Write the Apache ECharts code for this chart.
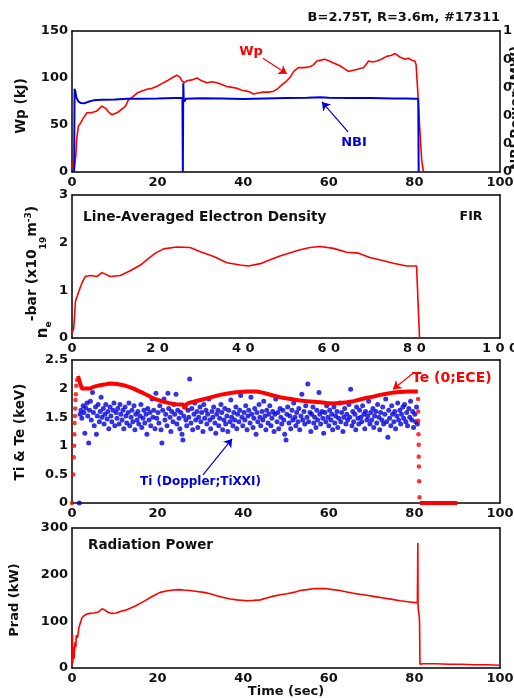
<!DOCTYPE html>
<html>
<head>
<meta charset="utf-8">
<script src="https://cdn.jsdelivr.net/npm/echarts@6/dist/echarts.min.js"></script>
<style>
  html, body { margin: 0; padding: 0; background: #fff; }
  #chart { width: 514px; height: 698px; }
</style>
</head>
<body>
<div id="chart"></div>
<script>
// ---- data (time in sec) ----
var wpData = [[0,5],[0.2,12],[0.4,8],[0.5,2],[0.7,0],[0.9,18],[1.1,35],[1.5,49],[2,52],[2.6,57],[3.5,63],[4.5,63],[5.8,65],[6.5,68],[7,70],[7.8,68],[8.5,64],[9.3,61],[10.5,63],[11.7,67],[12.5,70],[13.2,77],[14.2,80],[15.2,84],[16.2,86],[17.5,88],[18.7,89],[19.8,91],[21,94],[22.2,97],[23.3,100],[24.5,103],[25.2,101],[25.7,97],[26.2,95],[26.8,97],[28,98],[29.2,100],[30.3,97],[31.5,95],[32.7,96],[33.9,95],[35,93],[36.2,91],[37.4,90],[38.5,89],[39.7,87],[40.9,86],[41.6,85],[42.4,83],[43.5,84],[44.7,85],[46,85],[47.1,86],[47.9,88],[48.6,91],[49.4,94],[50.2,97],[51,101],[51.8,107],[52.9,111],[54.2,111],[55.6,112],[56.4,114],[57.2,118],[58.2,119],[59.1,120],[60.1,118],[61.1,116],[62.6,113],[63.6,110],[64.6,107],[65.5,108],[66.5,109],[67.3,110],[68.1,111],[68.8,115],[69.3,118],[70.2,117],[71.2,118],[72.3,120],[73.5,123],[74.5,124],[75.5,126],[76.1,124],[76.7,122],[77.8,120],[78.6,121],[79.4,119],[80.1,118],[80.4,114],[80.9,77],[81.2,50],[81.5,28],[81.7,13],[82.1,1]];

// NBI on the right axis (0..1)
var nbiData = [[0.5,0],[0.6,0.59],[0.8,0.57],[1.0,0.53],[1.5,0.5],[2,0.49],[3,0.488],[4,0.5],[5,0.508],[7,0.512],[10,0.515],[13,0.52],[16,0.52],[20,0.522],[24,0.525],[25.8,0.525],[25.9,0],[26.0,0.63],[26.1,0.52],[26.3,0.5],[26.6,0.52],[30,0.523],[35,0.522],[40,0.518],[45,0.522],[50,0.525],[55,0.526],[58,0.53],[60,0.526],[65,0.525],[70,0.525],[75,0.522],[78,0.521],[80,0.52],[80.9,0.52],[81.0,0]];

var neData = [[0,0.1],[0.4,0.2],[0.8,0.77],[1.6,0.98],[2.3,1.15],[3.1,1.29],[4.3,1.31],[5.8,1.29],[7.0,1.37],[7.8,1.34],[8.9,1.29],[11.3,1.31],[13.6,1.41],[16,1.53],[17.9,1.67],[19.5,1.78],[21.4,1.87],[24.5,1.91],[27.6,1.9],[30,1.81],[33.1,1.71],[36.2,1.58],[39.3,1.53],[41.2,1.51],[44,1.56],[46.3,1.64],[48.6,1.72],[51,1.79],[53.3,1.85],[55.6,1.9],[58,1.92],[61.1,1.88],[64.2,1.8],[66.9,1.78],[69.6,1.69],[72.8,1.62],[75.1,1.57],[78.2,1.51],[80.5,1.51],[80.8,1.55],[81.2,0]];

var teLine = [[1.4,2.22],[1.8,2.12],[2.3,2.0],[3,2.0],[4.3,2.0],[5,2.03],[6.6,2.06],[7.5,2.07],[8.9,2.09],[10.5,2.08],[12,2.06],[13.3,2.03],[14.4,2.0],[15.5,1.96],[16.7,1.92],[18,1.87],[19,1.83],[20.2,1.8],[21.4,1.77],[22.5,1.75],[23.7,1.73],[25,1.72],[26,1.72],[26.3,1.65],[26.6,1.72],[27.3,1.75],[28.4,1.77],[30,1.8],[31.5,1.83],[33,1.86],[34.6,1.89],[36,1.91],[37.7,1.93],[39.3,1.94],[40.9,1.95],[43.2,1.95],[44.5,1.93],[45.5,1.91],[47,1.88],[48.6,1.85],[50,1.83],[51.8,1.81],[53.3,1.79],[54.9,1.78],[56.5,1.77],[58,1.76],[59.5,1.75],[61.1,1.74],[62.6,1.75],[64.2,1.76],[65.8,1.78],[67.3,1.81],[68.9,1.84],[70.4,1.86],[72,1.89],[73.5,1.91],[75,1.93],[76.7,1.94],[78.5,1.95],[80.8,1.95]];
var teDots = [[0,0],[0.3,0.5],[0.4,0.8],[0.5,1.0],[0.55,1.2],[0.6,1.4],[0.7,1.52],[0.75,1.65],[0.8,1.8],[0.9,1.9],[1.0,2.05],[1.2,2.15],[80.85,1.82],[80.9,1.6],[80.9,1.44],[80.95,1.2],[81.0,1.02],[81.0,0.81],[81.05,0.64],[81.1,0.38],[81.2,0.1]];
var teZero = [[81.3,0],[90,0]];

var tiData = [[1.7,0],[1.9,1.55],[2.1,1.62],[2.3,1.48],[2.6,1.7],[2.8,1.58],[3.0,1.22],[3.2,1.66],[3.5,1.75],[3.7,1.52],[3.9,1.05],[4.1,1.62],[4.3,1.78],[4.5,1.45],[4.8,1.93],[5.0,1.58],[5.2,1.35],[5.5,1.68],[5.7,1.2],[5.9,1.52],[6.1,1.72],[6.4,1.42],[6.6,1.6],[6.8,1.85],[7.0,1.5],[7.3,1.65],[7.5,1.38],[7.7,1.55],[7.9,1.72],[8.2,1.47],[8.4,1.6],[8.6,1.3],[8.9,1.68],[9.1,1.52],[9.3,1.42],[9.6,1.62],[9.8,1.75],[10.0,1.35],
[10.3,1.58],[10.5,1.48],[10.7,1.65],[11.0,1.38],[11.2,1.72],[11.4,1.55],[11.7,1.45],[11.9,1.62],[12.1,1.3],[12.4,1.68],[12.6,1.52],[12.8,1.4],[13.1,1.58],[13.3,1.75],[13.5,1.35],[13.8,1.5],[14.0,1.62],[14.2,1.42],[14.5,1.7],[14.7,1.28],[14.9,1.55],[15.2,1.45],[15.4,1.6],[15.6,1.38],[15.9,1.52],[16.1,1.72],[16.3,1.32],[16.6,1.48],[16.8,1.62],[17.0,1.4],[17.3,1.55],[17.5,1.2],[17.7,1.65],[18.0,1.45],[18.2,1.58],[18.4,1.35],[18.7,1.82],[18.9,1.5],[19.1,1.62],[19.4,1.3],[19.6,1.92],[19.8,1.48],
[20.1,1.58],[20.3,1.4],[20.5,1.7],[20.8,1.28],[21.0,1.05],[21.2,1.62],[21.5,1.82],[21.7,1.45],[21.9,1.55],[22.2,1.35],[22.4,1.92],[22.6,1.65],[22.9,1.5],[23.1,1.25],[23.3,1.6],[23.6,1.42],[23.8,1.72],[24.0,1.55],[24.3,1.9],[24.5,1.38],[24.7,1.62],[25.0,1.48],[25.2,1.3],[25.4,1.58],[25.7,1.2],[25.9,1.1],[26.1,1.52],[26.4,1.68],[26.6,1.45],[26.8,1.35],[27.1,1.62],[27.3,1.5],[27.5,2.17],[27.8,1.4],[28.0,1.65],[28.2,1.28],[28.5,1.55],[28.7,1.75],[28.9,1.45],[29.2,1.6],[29.4,1.32],[29.6,1.5],[29.9,1.68],
[30.1,1.42],[30.3,1.58],[30.6,1.25],[30.8,1.72],[31.0,1.48],[31.3,1.62],[31.5,1.38],[31.7,1.55],[32.0,1.82],[32.2,1.45],[32.4,1.3],[32.7,1.6],[32.9,1.5],[33.1,1.68],[33.4,1.4],[33.6,1.22],[33.8,1.55],[34.1,1.62],[34.3,1.35],[34.5,1.48],[34.8,1.72],[35.0,1.58],[35.2,1.28],[35.5,1.45],[35.7,1.65],[35.9,1.38],[36.2,1.52],[36.4,1.25],[36.6,1.62],[36.9,1.42],[37.1,1.8],[37.3,1.5],[37.6,1.35],[37.8,1.58],[38.0,1.45],[38.3,1.68],[38.5,1.3],[38.7,1.55],[39.0,1.42],[39.2,1.62],[39.4,1.88],[39.7,1.5],[39.9,1.35],
[40.2,1.58],[40.4,1.45],[40.6,1.7],[40.9,1.28],[41.1,1.52],[41.3,1.62],[41.6,1.4],[41.8,1.85],[42.0,1.55],[42.3,1.32],[42.5,1.48],[42.7,1.65],[43.0,1.2],[43.2,1.58],[43.4,1.42],[43.7,1.72],[43.9,1.5],[44.1,1.35],[44.4,1.6],[44.6,1.45],[44.8,1.78],[45.1,1.52],[45.3,1.28],[45.5,1.62],[45.8,1.4],[46.0,1.55],[46.2,1.7],[46.5,1.35],[46.7,1.48],[46.9,1.6],[47.2,1.25],[47.4,1.55],[47.6,1.82],[47.9,1.42],[48.1,1.58],[48.3,1.3],[48.6,1.65],[48.8,1.5],[49.0,1.38],[49.3,1.62],[49.5,1.45],[49.7,1.2],[50.0,1.1],
[50.2,1.55],[50.4,1.68],[50.7,1.4],[50.9,1.52],[51.1,1.3],[51.4,1.62],[51.6,1.45],[51.8,1.75],[52.1,1.5],[52.3,1.35],[52.5,1.58],[52.8,1.42],[53.0,1.65],[53.2,1.28],[53.5,1.52],[53.7,1.9],[53.9,1.45],[54.2,1.6],[54.4,1.38],[54.6,1.7],[54.9,1.5],[55.1,2.08],[55.3,1.42],[55.6,1.58],[55.8,1.25],[56.0,1.55],[56.3,1.68],[56.5,1.4],[56.7,1.5],[57.0,1.32],[57.2,1.62],[57.4,1.45],[57.7,1.93],[57.9,1.55],[58.1,1.38],[58.4,1.6],[58.6,1.48],[58.8,1.22],[59.1,1.58],[59.3,1.42],[59.5,1.7],[59.8,1.5],
[60.0,1.35],[60.2,1.62],[60.5,1.45],[60.7,1.55],[60.9,1.28],[61.2,1.68],[61.4,1.4],[61.6,1.52],[61.9,1.6],[62.1,1.32],[62.3,1.48],[62.6,1.75],[62.8,1.42],[63.0,1.58],[63.3,1.25],[63.5,1.5],[63.7,1.65],[64.0,1.38],[64.2,1.55],[64.4,1.45],[64.7,1.72],[64.9,1.5],[65.1,1.99],[65.4,1.35],[65.6,1.6],[65.8,1.42],[66.1,1.55],[66.3,1.28],[66.5,1.68],[66.8,1.48],[67.0,1.38],[67.2,1.62],[67.5,1.5],[67.7,1.42],[67.9,1.7],[68.2,1.55],[68.4,1.3],[68.6,1.6],[68.9,1.45],[69.1,1.52],[69.3,1.78],[69.6,1.38],[69.8,1.58],
[70.0,1.45],[70.3,1.65],[70.5,1.32],[70.7,1.52],[71.0,1.6],[71.2,1.4],[71.4,1.72],[71.7,1.5],[71.9,1.28],[72.1,1.58],[72.4,1.45],[72.6,1.68],[72.8,1.38],[73.1,1.55],[73.3,1.82],[73.5,1.42],[73.8,1.15],[74.0,1.62],[74.2,1.48],[74.5,1.35],[74.7,1.7],[74.9,1.55],[75.2,1.42],[75.4,1.6],[75.6,1.3],[75.9,1.52],[76.1,1.75],[76.3,1.45],[76.6,1.62],[76.8,1.38],[77.0,1.55],[77.3,1.68],[77.5,1.48],[77.7,1.72],[78.0,1.42],[78.2,1.58],[78.4,1.35],[78.7,1.65],[78.9,1.5],[79.1,1.78],[79.4,1.45],[79.6,1.6],[79.8,1.32],[80.1,1.55],[80.3,1.42],[80.5,1.68],[80.7,1.38]];

var pradData = [[0,5],[0.1,72],[0.2,10],[0.3,45],[0.5,20],[0.7,55],[0.9,45],[1.0,70],[1.3,65],[1.6,86],[2.0,98],[2.3,107],[2.8,112],[3.5,116],[4.3,117],[5.1,118],[6.2,120],[7.0,127],[7.5,125],[7.8,123],[8.5,119],[9.3,117],[10.3,118],[11.3,121],[12.5,124],[13.6,128],[14.8,133],[16,139],[17.2,145],[18.3,151],[19.5,157],[20.6,162],[22,165],[23.7,167],[25,168],[26.1,167],[27.5,166],[29.2,164],[30.8,162],[32.3,159],[33.8,155],[35.4,151],[37,148],[38.5,146],[40.9,144],[42.5,145],[44,146],[45.5,150],[47.1,154],[48.7,157],[50.2,159],[51.8,162],[53.3,166],[54.9,168],[56.4,170],[58,170.5],[59.5,170],[61,168],[62.6,166],[64.2,163],[65.8,160],[67.3,158],[68.9,156],[70.8,153],[72.8,150],[74.8,147],[76.7,144],[78.5,142],[80.2,140],[80.5,136],[80.7,140],[80.8,268],[80.85,140],[80.9,125],[81.1,114],[81.2,100],[81.3,8],[82,9],[85,9],[88,8],[91,8],[94,7],[97,7],[100,6]];

var timeTicks = [0, 100, 20];          // min, max, interval
var wpAxis = [0, 150, 50];
var nbiAxis = [0, 1, 0.2];
var neAxis = [0, 3, 1];
var tiAxis = [0, 2.5, 0.5];
var pradAxis = [0, 300, 100];

var RED = '#ff0000';
var BLUE = '#0000dd';
var FONT = 'DejaVu Sans';

var chart = echarts.init(document.getElementById('chart'));

var grids = [
    {left: 72, top: 31, width: 428, height: 141},
    {left: 72, top: 195, width: 428, height: 143},
    {left: 72, top: 360, width: 428, height: 143},
    {left: 72, top: 528, width: 428, height: 140}
];
grids.forEach(function (g) { g.outerBoundsMode = 'none'; g.containLabel = false; });

function axisBase(range) {
    return {
        type: 'value',
        min: range[0], max: range[1], interval: range[2],
        axisLine: {show: true, onZero: false, lineStyle: {color: '#000', width: 1.5}},
        axisTick: {show: false},
        splitLine: {show: false},
        axisLabel: {show: false}
    };
}
function withLabels(ax, margin, fmt) {
    ax.axisLabel = {show: true, margin: margin, color: '#111', fontFamily: FONT, fontWeight: 'bold', fontSize: 13};
    if (fmt) ax.axisLabel.formatter = fmt;
    return ax;
}

var xAxes = [], yAxes = [];
var yRanges = [[wpAxis, nbiAxis], [neAxis, neAxis], [tiAxis, tiAxis], [pradAxis, pradAxis]];
for (var i = 0; i < 4; i++) {
    var fmt = i === 1 ? function (v) { return String(v).split('').join(' '); } : null;
    var xb = withLabels(axisBase(timeTicks), 4, fmt);
    xb.gridIndex = i; xb.position = 'bottom';
    var xt = axisBase(timeTicks);
    xt.gridIndex = i; xt.position = 'top';
    xAxes.push(xb, xt);

    var yl = withLabels(axisBase(yRanges[i][0]), 4);
    yl.gridIndex = i; yl.position = 'left';
    var yr = axisBase(yRanges[i][1]);
    if (i === 0) yr = withLabels(yr, 3);
    yr.gridIndex = i; yr.position = 'right';
    yAxes.push(yl, yr);
}

function lineSeries(data, xi, yi, color, width, extra) {
    var s = {
        type: 'line', data: data, xAxisIndex: xi, yAxisIndex: yi,
        showSymbol: false, symbol: 'none', clip: false,
        lineStyle: {color: color, width: width}, itemStyle: {color: color},
        animation: false, silent: true
    };
    for (var k in extra) s[k] = extra[k];
    return s;
}
function arrow(from, to, color) {
    return {
        silent: true, animation: false, symbol: ['none', 'arrow'], symbolSize: 8,
        label: {show: false},
        lineStyle: {color: color, width: 1.2, type: 'solid'},
        data: [[{coord: from}, {coord: to}]]
    };
}

var series = [
    lineSeries(wpData, 0, 0, RED, 1.6, {markLine: arrow([44.6, 121], [50.2, 104.5], RED), z: 3}),
    lineSeries(nbiData, 0, 1, BLUE, 2, {z: 4, markLine: arrow([64.5, 0.284], [58.4, 0.497], BLUE)}),
    lineSeries(neData, 2, 2, RED, 1.6),
    {type: 'scatter', data: tiData, xAxisIndex: 4, yAxisIndex: 4, symbolSize: 5,
        itemStyle: {color: BLUE}, animation: false, silent: true,
        markLine: arrow([30.6, 0.49], [37.4, 1.12], BLUE)},
    lineSeries(teLine, 4, 4, RED, 4, {z: 4, markLine: arrow([79.7, 2.27], [75.0, 1.99], RED)}),
    {type: 'scatter', data: teDots, xAxisIndex: 4, yAxisIndex: 4, symbolSize: 4.5, clip: false,
        itemStyle: {color: RED}, animation: false, silent: true, z: 4},
    lineSeries(teZero, 4, 4, RED, 4, {z: 5}),
    lineSeries(pradData, 6, 6, RED, 1.6)
];

var gid = 0;
function txt(str, x, y, size, color, align, extra) {
    var g = {
        id: 'tx' + (gid++), type: 'text', x: x, y: y, silent: true, z: 10,
        style: {text: str, fill: color || '#111', font: 'bold ' + size + 'px "' + FONT + '"',
            textAlign: align || 'left', textVerticalAlign: 'middle'}
    };
    for (var k in extra) g[k] = extra[k];
    return g;
}
var ROT = Math.PI / 2;
var base = {fontFamily: FONT, fontWeight: 'bold', fill: '#111', verticalAlign: 'top'};
function rs(o) { var r = {}; for (var k in base) r[k] = base[k]; for (var j in o) r[j] = o[j]; return r; }

var graphics = [
    txt('B=2.75T, R=3.6m, #17311', 500, 18, 13, '#111', 'right'),
    txt('Wp', 251, 52, 13, RED, 'center'),
    txt('NBI', 354, 143, 13, BLUE, 'center'),
    txt('Line-Averaged Electron Density', 83, 217, 13.7, '#111', 'left'),
    txt('FIR', 471, 217, 12.5, '#111', 'center'),
    txt('Te (0;ECE)', 412, 378, 14, RED, 'left'),
    txt('Ti (Doppler;TiXXI)', 140, 482, 12, BLUE, 'left'),
    txt('Radiation Power', 88, 545, 13.5, '#111', 'left'),
    txt('Time (sec)', 286, 692, 13, '#111', 'center'),
    txt('Wp (kJ)', 21, 106, 13.5, '#111', 'center', {rotation: ROT}),
    txt('Ti & Te (keV)', 20, 432, 13.5, '#111', 'center', {rotation: ROT}),
    txt('Prad (kW)', 15, 600, 13, '#111', 'center', {rotation: ROT}),
    txt('NBI Power (MW)', 516, 108, 13.5, '#111', 'center', {rotation: ROT}),
    {
        id: 'txNe', type: 'text', x: 31, y: 272, rotation: ROT, silent: true, z: 10,
        style: {
            text: '{n|n}{e|e}{t|-bar (x10}{s|19}{t|m}{p|-3}{t|)}',
            textAlign: 'center', textVerticalAlign: 'middle',
            rich: {
                n: rs({fontSize: 15, lineHeight: 15, padding: [12, 0, 3, 0]}),
                e: rs({fontSize: 9, lineHeight: 9, padding: [21, 0, 0, 0]}),
                t: rs({fontSize: 14, lineHeight: 14, padding: [2, 0, 0, 0]}),
                s: rs({fontSize: 9, lineHeight: 9, padding: [16, 0, 0, 0]}),
                p: rs({fontSize: 9, lineHeight: 9, padding: [1, 0, 0, 0]})
            }
        }
    }
];

chart.setOption({
    animation: false,
    backgroundColor: '#fff',
    grid: grids,
    xAxis: xAxes,
    yAxis: yAxes,
    series: series,
    graphic: graphics
});

// inward ticks on all four sides, from each grid's box and axis range
var ticks = [];
function tick(x1, y1, x2, y2) {
    ticks.push({id: 'tk' + ticks.length, type: 'line', silent: true, z: 2,
        shape: {x1: x1, y1: y1, x2: x2, y2: y2},
        style: {stroke: '#000', lineWidth: 1.3}});
}
try {
    for (var gi = 0; gi < 4; gi++) {
        var g = grids[gi];
        var top = g.top, bot = g.top + g.height, L = g.left, R = g.left + g.width;
        var nx = Math.round((timeTicks[1] - timeTicks[0]) / 5);
        for (var k = 0; k <= nx; k++) {
            var px = L + k / nx * g.width;
            var len = (k % 4 === 0) ? 6 : 3.5;
            tick(px, bot, px, bot - len);
            tick(px, top, px, top + len);
        }
        var ySides = [[yRanges[gi][0], 5, L, 1], [yRanges[gi][1], gi === 0 ? 3 : 5, R, -1]];
        for (var si = 0; si < 2; si++) {
            var s = ySides[si];
            var r = s[0], sub = s[1];
            var n = Math.round((r[1] - r[0]) / r[2]) * sub;
            for (var j = 0; j <= n; j++) {
                var py = bot - j / n * g.height;
                var l2 = (j % sub === 0) ? 6 : 3.5;
                tick(s[2], py, s[2] + s[3] * l2, py);
            }
        }
    }
    chart.setOption({graphic: ticks});
} catch (e) {
    // keep the chart without the minor decorations
}
</script>
</body>
</html>
